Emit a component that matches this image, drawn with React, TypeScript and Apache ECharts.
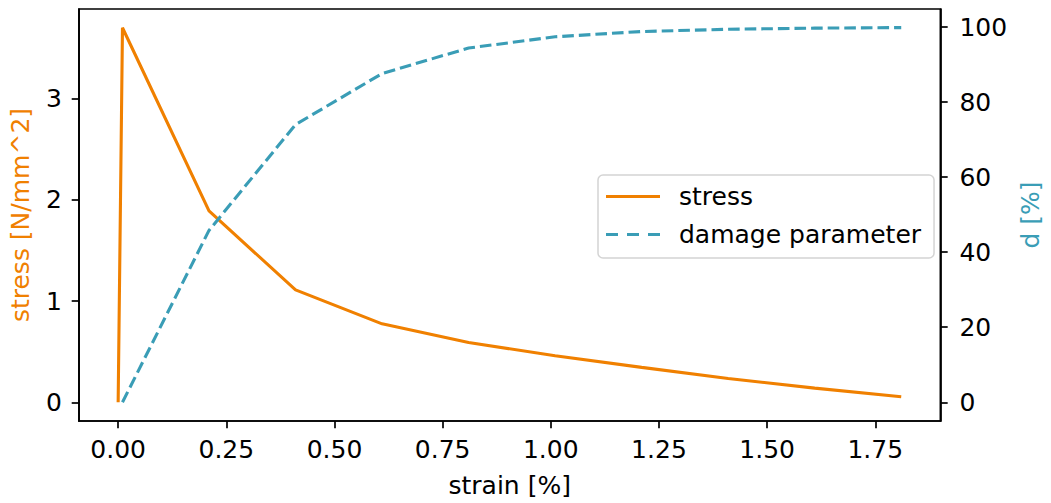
import React, { useEffect, useRef } from "react";
import * as echarts from "echarts";

const strain = [0, 0.01, 0.21, 0.41, 0.61, 0.81, 1.01, 1.21, 1.41, 1.61, 1.81];
const stress = [0, 3.7, 1.89, 1.11, 0.775, 0.59, 0.46, 0.345, 0.235, 0.14, 0.055];
const damageStrain = [0.01, 0.21, 0.41, 0.61, 0.81, 1.01, 1.21, 1.41, 1.61, 1.81];
const damage = [0, 45.8, 74, 87.6, 94.4, 97.4, 98.8, 99.4, 99.7, 99.85];
const xTicks = [0, 0.25, 0.5, 0.75, 1.0, 1.25, 1.5, 1.75];
const yLeftTicks = [0, 1, 2, 3];
const yRightTicks = [0, 20, 40, 60, 80, 100];

const ORANGE = "#F08000";
const TEAL = "#3A9DB6";
const FONT = "DejaVu Sans";
const FS = 25;

export default function App() {
  const ref = useRef<HTMLDivElement>(null);
  useEffect(() => {
    if (!ref.current) return;
    const chart = echarts.init(ref.current, undefined, { renderer: "svg" });
    const axisLine = { show: true, onZero: false, lineStyle: { color: "#000", width: 1.7 } };
    const tick = (vals: number[]) => ({
      show: true,
      inside: false,
      length: 7.3,
      lineStyle: { color: "#000", width: 1.7 },
      customValues: vals,
    });
    chart.setOption({
      animation: false,
      textStyle: { fontFamily: FONT },
      grid: {
        left: 78,
        top: 9,
        width: 869,
        height: 414,
        show: true,
        borderColor: "#000",
        borderWidth: 1.7,
        backgroundColor: "transparent",
      },
      legend: {
        orient: "vertical",
        left: 598,
        top: 175,
        padding: [9, 13, 11, 8],
        itemGap: 13,
        itemWidth: 54,
        itemHeight: 3,
        borderColor: "#d4d4d4",
        borderWidth: 1.5,
        borderRadius: 5,
        backgroundColor: "#fff",
        textStyle: { fontFamily: FONT, fontSize: FS, color: "#000", padding: [0, 0, 0, 14] },
        data: [
          { name: "stress", icon: "path://M0,0h54v3h-54z" },
          { name: "damage parameter", icon: "path://M0,0h12v3h-12z M21,0h12v3h-12z M42,0h12v3h-12z" },
        ],
      },
      xAxis: {
        type: "value",
        min: -0.0905,
        max: 1.9005,
        splitLine: { show: false },
        axisLine,
        axisTick: tick(xTicks),
        axisLabel: {
          customValues: xTicks,
          formatter: (v: number) => v.toFixed(2),
          fontFamily: FONT,
          fontSize: FS,
          color: "#000",
          margin: 16,
        },
        name: "strain [%]",
        nameLocation: "middle",
        nameGap: 52,
        nameTextStyle: { fontFamily: FONT, fontSize: FS, color: "#000" },
      },
      yAxis: [
        {
          type: "value",
          position: "left",
          min: -0.185,
          max: 3.885,
          splitLine: { show: false },
          axisLine,
          axisTick: tick(yLeftTicks),
          axisLabel: {
            customValues: yLeftTicks,
            formatter: (v: number) => String(v),
            fontFamily: FONT,
            fontSize: FS,
            color: "#000",
            margin: 17,
          },
          name: "stress [N/mm^2]",
          nameLocation: "middle",
          nameRotate: 90,
          nameGap: 46,
          nameTextStyle: { fontFamily: FONT, fontSize: FS, color: ORANGE },
        },
        {
          type: "value",
          position: "right",
          min: -4.99,
          max: 104.8,
          splitLine: { show: false },
          axisLine,
          axisTick: tick(yRightTicks),
          axisLabel: {
            customValues: yRightTicks,
            formatter: (v: number) => String(v),
            fontFamily: FONT,
            fontSize: FS,
            color: "#000",
            margin: 19,
          },
          name: "d [%]",
          nameLocation: "middle",
          nameRotate: 90,
          nameGap: 74,
          nameTextStyle: { fontFamily: FONT, fontSize: FS, color: TEAL },
        },
      ],
      series: [
        {
          name: "stress",
          type: "line",
          yAxisIndex: 0,
          showSymbol: false,
          symbol: "none",
          color: ORANGE,
          lineStyle: { color: ORANGE, width: 3.1 },
          data: strain.map((x, i) => [x, stress[i]]),
        },
        {
          name: "damage parameter",
          type: "line",
          yAxisIndex: 1,
          showSymbol: false,
          symbol: "none",
          color: TEAL,
          lineStyle: { color: TEAL, width: 3.1, type: [11.6, 5] },
          data: damageStrain.map((x, i) => [x, damage[i]]),
        },
      ],
    });
    return () => chart.dispose();
  }, []);
  return (
    <div
      ref={ref}
      style={{ position: "absolute", left: 0, top: 0, width: 1051, height: 503, background: "#fff" }}
    />
  );
}
